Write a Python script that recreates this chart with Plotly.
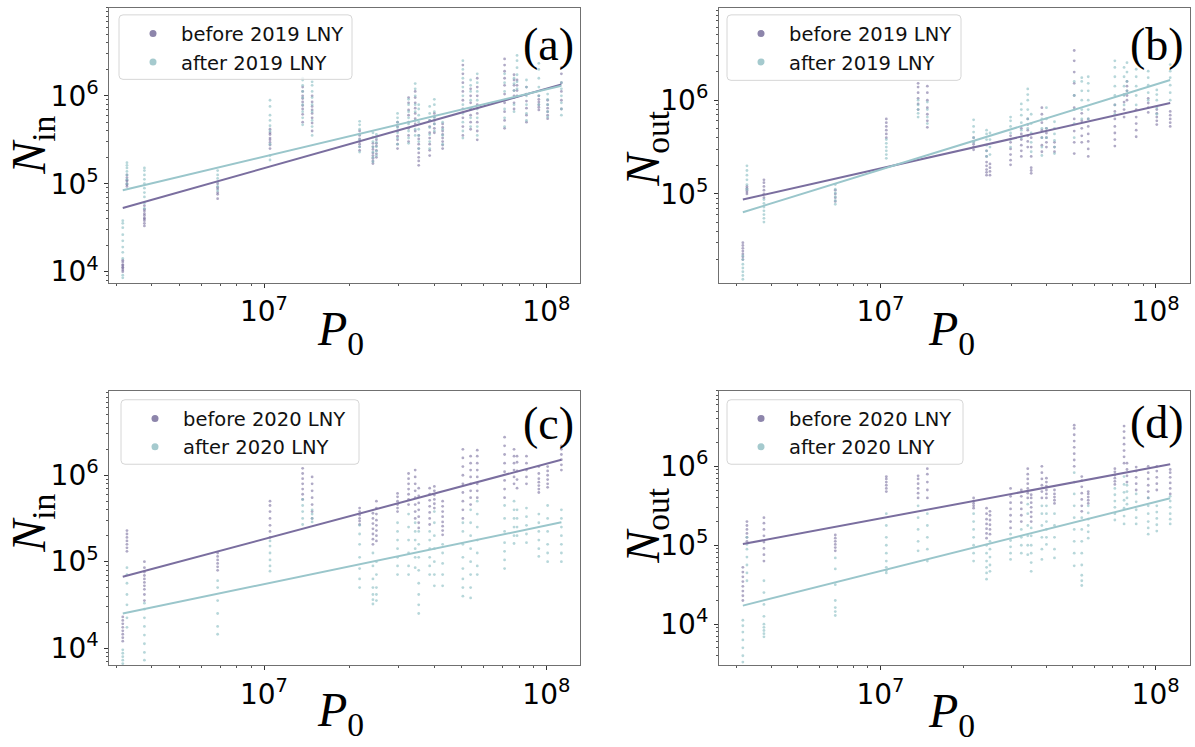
import plotly.graph_objects as go

W, H = 1195, 747

# Provincial population P0 (millions), one entry per province strip
p0_millions = [3.16, 3.27, 3.77, 6.85, 10.5, 13.7, 14.8, 21.8, 24.3, 25.0, 29.7, 32.5, 34.3, 35.3,
               38.6, 40.1, 42.9, 50.6, 53.9, 56.9, 71.1, 76.8, 78.7, 85.0, 94.0, 101.0, 113.0]

# Daily flows, log10 values, one list per province (same order as p0_millions)
nin_before_2019 = [
    [4.0, 4.02, 4.04, 4.05, 4.07, 4.08, 4.11, 4.13], [4.97, 4.99, 5.0, 5.03, 5.04, 5.07, 5.1],
    [4.52, 4.55, 4.58, 4.6, 4.61, 4.64, 4.66, 4.69, 4.71, 4.75], [4.83, 4.88, 4.9, 4.94, 4.96, 5.0],
    [5.4, 5.44, 5.47, 5.5, 5.52, 5.56, 5.58, 5.62], [5.7, 5.79, 5.85, 5.89, 5.93, 5.97, 6.0, 6.05, 6.1],
    [5.6, 5.69, 5.75, 5.8, 5.84, 5.88, 5.93, 6.0], [5.38, 5.42, 5.45, 5.48, 5.51, 5.55, 5.6],
    [5.23, 5.26, 5.29, 5.32, 5.35, 5.39, 5.42, 5.46], [5.3, 5.34, 5.38, 5.43, 5.46, 5.5],
    [5.4, 5.45, 5.5, 5.54, 5.6, 5.65, 5.7], [5.48, 5.55, 5.63, 5.7, 5.78, 5.84, 5.92, 5.98],
    [5.6, 5.68, 5.74, 5.8, 5.86, 5.92, 5.98, 6.05], [5.21, 5.26, 5.3, 5.35, 5.4, 5.45, 5.51, 5.55],
    [5.32, 5.38, 5.45, 5.52, 5.58, 5.65, 5.72], [5.58, 5.63, 5.68, 5.72, 5.76, 5.8],
    [5.4, 5.44, 5.48, 5.52, 5.56, 5.6, 5.64, 5.68], [5.55, 5.65, 5.75, 5.85, 5.95, 6.05, 6.15, 6.25, 6.35],
    [5.62, 5.7, 5.78, 5.85, 5.92, 6.0, 6.08], [5.5, 5.6, 5.7, 5.8, 5.9, 6.0, 6.1, 6.2],
    [5.63, 5.72, 5.82, 5.92, 6.02, 6.12, 6.2, 6.28, 6.35, 6.42], [5.85, 5.92, 6.0, 6.06, 6.12, 6.18, 6.24],
    [6.0, 6.06, 6.12, 6.18], [5.7, 5.78, 5.86, 5.94, 6.02, 6.1], [5.84, 5.87, 5.9, 5.93, 5.96, 6.0],
    [5.74, 5.78, 5.82, 5.86, 5.9, 5.95], [5.85, 5.95, 6.05, 6.15, 6.25, 6.32],
]
nin_after_2019 = [
    [3.93, 3.96, 4.15, 4.22, 4.28, 4.35, 4.42, 4.5, 4.55, 4.58], [5.0, 5.05, 5.1, 5.14, 5.18, 5.21, 5.24],
    [4.72, 4.78, 4.85, 4.9, 4.95, 5.0, 5.05, 5.1, 5.15, 5.18], [4.92, 4.97, 5.02, 5.06, 5.1, 5.15],
    [5.27, 5.32, 5.45, 5.6, 5.66, 5.72, 5.78, 5.88, 5.95], [5.67, 5.75, 5.82, 5.9, 5.98, 6.05, 6.12, 6.18, 6.2],
    [5.55, 5.65, 5.72, 5.82, 5.9, 5.98, 6.05, 6.12, 6.16], [5.36, 5.42, 5.5, 5.56, 5.62, 5.67, 5.71],
    [5.25, 5.3, 5.36, 5.42, 5.48, 5.53, 5.58], [5.32, 5.37, 5.42, 5.47, 5.52, 5.56],
    [5.45, 5.52, 5.58, 5.64, 5.7, 5.75, 5.8], [5.46, 5.52, 5.6, 5.68, 5.75, 5.82, 5.9, 5.96],
    [5.55, 5.62, 5.72, 5.82, 5.9, 6.0, 6.08, 6.14], [5.4, 5.48, 5.55, 5.62, 5.7, 5.78, 5.85, 5.9],
    [5.4, 5.48, 5.56, 5.64, 5.72, 5.8, 5.88], [5.6, 5.68, 5.75, 5.82, 5.9, 5.96],
    [5.45, 5.55, 5.62, 5.7], [5.52, 5.6, 5.7, 5.8, 5.9, 6.0, 6.1, 6.2, 6.3, 6.4],
    [5.65, 5.75, 5.85, 5.95, 6.05, 6.12, 6.18], [5.55, 5.65, 5.75, 5.85, 5.95, 6.05, 6.15, 6.25],
    [5.65, 5.75, 5.85, 5.95, 6.05, 6.15, 6.25], [5.82, 5.9, 5.98, 6.06, 6.14, 6.2],
    [5.99, 6.08, 6.16, 6.24, 6.32, 6.4, 6.46], [5.72, 5.8, 5.9, 6.0, 6.1, 6.18],
    [5.9, 6.0, 6.1, 6.2, 6.3, 6.37], [5.76, 5.82, 5.9, 5.96, 6.02], [5.78, 5.85, 5.92, 6.0, 6.08, 6.15],
]
nout_before_2019 = [
    [4.3, 4.33, 4.36, 4.39, 4.42, 4.45, 4.48], [5.0, 5.02, 5.04, 5.06, 5.08],
    [4.96, 5.0, 5.04, 5.08, 5.12, 5.15], [4.92, 4.96, 5.0, 5.04],
    [5.6, 5.64, 5.68, 5.72, 5.76, 5.8], [5.9, 5.96, 6.02, 6.08, 6.14, 6.18],
    [5.71, 5.78, 5.85, 5.92, 6.0, 6.08, 6.15], [5.47, 5.5, 5.53, 5.56, 5.6],
    [5.2, 5.23, 5.26, 5.3, 5.34, 5.4, 5.46], [5.2, 5.24, 5.28, 5.32],
    [5.31, 5.36, 5.42, 5.48, 5.55, 5.62], [5.4, 5.46, 5.52, 5.58, 5.64, 5.7],
    [5.5, 5.56, 5.62, 5.68, 5.74, 5.8], [5.22, 5.25, 5.28, 5.4, 5.5, 5.6],
    [5.45, 5.52, 5.6, 5.68, 5.76, 5.85, 5.92], [5.5, 5.55, 5.6, 5.65, 5.7],
    [5.45, 5.5, 5.55], [5.43, 5.55, 5.67, 5.8, 5.92, 6.05, 6.18, 6.3, 6.42, 6.53],
    [5.55, 5.62, 5.7, 5.78, 5.86], [5.4, 5.48, 5.56, 5.64, 5.72, 5.8],
    [5.51, 5.58, 5.65, 5.72, 5.8, 5.88, 5.95], [5.82, 5.9, 5.98, 6.06],
    [6.0, 6.05, 6.1, 6.15, 6.2], [5.61, 5.68, 5.75, 5.82, 5.9], [5.87, 5.92, 5.97, 6.02],
    [5.74, 5.78, 5.82, 5.86, 5.9], [5.72, 5.76, 5.8, 5.84, 5.88],
]
nout_after_2019 = [
    [4.09, 4.13, 4.17, 4.21, 4.25, 4.3, 4.34], [5.05, 5.1, 5.15, 5.2, 5.25, 5.3],
    [4.7, 4.74, 4.78, 4.82, 4.86, 4.9, 4.94], [4.89, 4.93, 4.97, 5.01, 5.05, 5.1],
    [5.38, 5.42, 5.46, 5.5, 5.54, 5.58], [5.82, 5.86, 5.9, 5.95, 6.0],
    [5.75, 5.82, 5.9, 5.98], [5.55, 5.6, 5.66, 5.72, 5.79],
    [5.4, 5.46, 5.52, 5.58, 5.64, 5.68], [5.42, 5.5, 5.58, 5.65],
    [5.5, 5.58, 5.65, 5.72, 5.78, 5.82], [5.6, 5.68, 5.76, 5.84, 5.9, 5.96],
    [5.7, 5.8, 5.9, 6.0, 6.06, 6.12], [5.45, 5.55, 5.65, 5.75, 5.85],
    [5.41, 5.5, 5.6, 5.7, 5.8], [5.6, 5.7, 5.8, 5.92],
    [5.43, 5.5, 5.57, 5.64, 5.7, 5.77], [5.6, 5.75, 5.9, 6.05, 6.2],
    [5.8, 5.9, 6.0, 6.1, 6.2, 6.24], [5.8, 5.9, 6.0, 6.1, 6.18, 6.25],
    [5.85, 5.95, 6.05, 6.15, 6.25, 6.35, 6.42], [5.95, 6.05, 6.15, 6.25, 6.35],
    [6.1, 6.2, 6.3, 6.4], [5.95, 6.05, 6.15, 6.25, 6.33], [6.0, 6.08, 6.16, 6.24, 6.31],
    [5.85, 5.92, 6.0, 6.06, 6.11], [6.0, 6.08, 6.16, 6.24, 6.31, 6.38],
]
nin_before_2020 = [
    [4.08, 4.12, 4.16, 4.2, 4.24, 4.28, 4.32, 4.36], [5.12, 5.16, 5.2, 5.24, 5.28, 5.32, 5.36],
    [4.55, 4.62, 4.68, 4.72, 4.76, 4.8, 4.84, 4.88, 4.93, 5.0], [4.9, 4.94, 4.98, 5.02, 5.06, 5.1],
    [5.28, 5.35, 5.42, 5.5, 5.58, 5.65, 5.7], [5.72, 5.78, 5.84, 5.9, 5.96, 6.02, 6.08],
    [5.5, 5.58, 5.66, 5.74, 5.82, 5.9, 5.98], [5.43, 5.47, 5.5, 5.54, 5.58, 5.62],
    [5.2, 5.26, 5.32, 5.38, 5.44, 5.5, 5.56], [5.24, 5.3, 5.36, 5.42, 5.48, 5.55, 5.62, 5.7],
    [5.58, 5.62, 5.66, 5.7, 5.75, 5.79], [5.66, 5.72, 5.78, 5.84, 5.9, 5.96, 6.02],
    [5.5, 5.58, 5.66, 5.74, 5.82, 5.9, 5.98, 6.06], [5.39, 5.45, 5.52, 5.6, 5.68, 5.76, 5.85],
    [5.43, 5.5, 5.57, 5.64, 5.71, 5.78, 5.85], [5.62, 5.67, 5.72, 5.77, 5.82, 5.87],
    [5.31, 5.36, 5.41, 5.46, 5.52, 5.58, 5.64, 5.7], [5.5, 5.6, 5.7, 5.8, 5.9, 6.0, 6.1, 6.2, 6.3],
    [5.66, 5.74, 5.82, 5.9, 5.98, 6.06, 6.14, 6.22], [5.74, 5.82, 5.9, 5.98, 6.06, 6.14, 6.22, 6.29],
    [5.74, 5.84, 5.94, 6.04, 6.14, 6.24, 6.34, 6.44], [5.9, 5.98, 6.06, 6.14, 6.22, 6.3],
    [5.85, 5.95, 6.05, 6.15, 6.22], [5.9, 5.98, 6.06, 6.14, 6.22],
    [5.8, 5.84, 5.88, 5.92, 5.96, 6.02, 6.1], [5.86, 5.9, 5.95, 6.0, 6.05, 6.1],
    [6.06, 6.12, 6.18, 6.24, 6.3, 6.34],
]
nin_after_2020 = [
    [3.82, 3.86, 3.9, 3.94, 3.98], [4.24, 4.35, 4.5, 4.62, 4.75, 4.85, 4.93],
    [3.86, 3.95, 4.05, 4.15, 4.25, 4.35, 4.45, 4.52], [4.16, 4.25, 4.4, 4.55, 4.7, 4.78],
    [4.89, 4.95, 5.02, 5.1, 5.18, 5.24], [5.43, 5.5, 5.58, 5.65, 5.72],
    [5.46, 5.5, 5.55, 5.6], [4.7, 4.8, 4.92, 5.05, 5.2, 5.32, 5.42],
    [4.51, 4.56, 4.62, 4.7, 4.8, 4.95, 5.1], [4.55, 4.62, 4.7, 4.85, 5.0],
    [4.85, 4.95, 5.05, 5.15, 5.25, 5.35, 5.45], [4.85, 4.95, 5.1, 5.25, 5.4, 5.55],
    [4.93, 5.05, 5.15, 5.25, 5.35, 5.45], [4.4, 4.5, 4.62, 4.75, 4.9, 5.05, 5.2, 5.35],
    [4.85, 4.95, 5.05, 5.15, 5.25, 5.35], [4.72, 4.85, 5.0, 5.15, 5.3, 5.45, 5.58],
    [4.72, 4.85, 4.98, 5.1, 5.2], [4.6, 4.7, 4.8, 4.92, 5.05, 5.2, 5.35, 5.45],
    [4.58, 4.7, 4.85, 5.0, 5.15, 5.3, 5.45, 5.6], [4.85, 4.95, 5.1, 5.25, 5.4, 5.55, 5.7],
    [4.92, 5.02, 5.12, 5.22, 5.35, 5.5, 5.65], [5.21, 5.3, 5.4, 5.5, 5.6, 5.7],
    [5.3, 5.4, 5.5, 5.6], [5.22, 5.32, 5.42, 5.52, 5.62],
    [5.06, 5.15, 5.25, 5.35, 5.45, 5.55], [5.0, 5.1, 5.2, 5.35, 5.5, 5.65],
    [5.0, 5.1, 5.2, 5.3, 5.4, 5.5, 5.6],
]
nout_before_2020 = [
    [4.3, 4.36, 4.42, 4.48, 4.54, 4.6, 4.66, 4.72], [5.05, 5.1, 5.15, 5.2, 5.25, 5.3],
    [4.8, 4.88, 4.96, 5.04, 5.12, 5.2, 5.28, 5.35], [4.93, 4.97, 5.01, 5.05, 5.09, 5.13],
    [5.68, 5.72, 5.76, 5.8, 5.84, 5.87], [5.6, 5.66, 5.72, 5.78, 5.84, 5.88],
    [5.6, 5.7, 5.8, 5.9, 5.97], [5.47, 5.5, 5.53, 5.56, 5.6],
    [5.09, 5.15, 5.21, 5.27, 5.33, 5.4, 5.47], [5.14, 5.2, 5.26, 5.32, 5.38, 5.43],
    [5.22, 5.3, 5.38, 5.46, 5.54, 5.62, 5.72], [5.3, 5.38, 5.46, 5.54, 5.62, 5.7],
    [5.6, 5.66, 5.72, 5.78, 5.84, 5.9, 5.97], [5.3, 5.36, 5.42, 5.48, 5.54, 5.6, 5.64],
    [5.6, 5.68, 5.76, 5.84, 5.92, 6.0], [5.6, 5.65, 5.7, 5.75, 5.8, 5.85],
    [5.53, 5.57, 5.61, 5.65, 5.7], [6.0, 6.08, 6.16, 6.24, 6.32, 6.4, 6.48, 6.52],
    [5.43, 5.5, 5.58, 5.66, 5.74, 5.82, 5.87], [5.53, 5.57, 5.61, 5.65, 5.68],
    [5.77, 5.81, 5.85, 5.89, 5.93, 5.97], [6.04, 6.12, 6.2, 6.28, 6.36, 6.44, 6.51],
    [5.8, 5.88, 5.96, 6.04], [5.7, 5.78, 5.86, 5.94, 5.99],
    [5.6, 5.68, 5.76, 5.84, 5.92, 6.0], [5.7, 5.78, 5.86, 5.94, 6.0],
    [5.65, 5.72, 5.79, 5.86, 5.92, 5.96],
]
nout_after_2020 = [
    [3.52, 3.6, 3.7, 3.8, 3.9, 3.98, 4.05], [4.55, 4.65, 4.75, 4.85, 4.95, 5.01, 5.1],
    [3.84, 3.88, 3.92, 3.96, 4.0, 4.1, 4.25, 4.4, 4.55], [4.11, 4.16, 4.21, 4.3, 4.5, 4.7, 4.84],
    [4.65, 4.68, 4.72, 4.8, 4.9, 5.0, 5.1, 5.25, 5.4], [4.93, 5.05, 5.2, 5.35, 5.5],
    [4.8, 4.95, 5.1, 5.25, 5.4], [4.8, 4.9, 5.0, 5.1, 5.2, 5.3, 5.4],
    [4.57, 4.65, 4.72, 4.8, 4.9, 5.0], [4.67, 4.75, 4.85, 4.95, 5.05],
    [4.82, 4.9, 4.98, 5.06, 5.14], [4.9, 5.0, 5.1, 5.2],
    [4.88, 5.0, 5.12, 5.25, 5.4, 5.52], [4.67, 4.78, 4.9, 5.0, 5.12, 5.22],
    [4.82, 4.95, 5.1, 5.25, 5.4, 5.5], [5.01, 5.1, 5.2, 5.3, 5.4, 5.5],
    [4.84, 4.95, 5.1, 5.25, 5.4], [4.74, 4.9, 5.05, 5.2, 5.35, 5.5, 5.65, 5.8, 5.92],
    [4.49, 4.55, 4.62, 4.75, 4.9, 5.05, 5.2, 5.35], [5.09, 5.17, 5.25, 5.33, 5.41, 5.5],
    [5.32, 5.4, 5.48, 5.56, 5.64, 5.72], [5.27, 5.37, 5.47, 5.57, 5.67, 5.77, 5.87],
    [5.52, 5.6, 5.68, 5.76], [5.27, 5.35, 5.45, 5.55, 5.65],
    [5.14, 5.22, 5.3, 5.4, 5.5, 5.6], [5.18, 5.26, 5.34, 5.42, 5.5],
    [5.27, 5.33, 5.4, 5.48, 5.56, 5.62],
]

# Power-law fit lines: log10 value at the smallest and the largest province
fit_nin_2019 = {"before": [4.723, 6.13], "after": [4.926, 6.115]}
fit_nout_2019 = {"before": [4.94, 5.97], "after": [4.805, 6.215]}
fit_nin_2020 = {"before": [4.825, 6.18], "after": [4.40, 5.455]}
fit_nout_2020 = {"before": [5.015, 6.025], "after": [4.235, 5.595]}

x_tickvals = [1e7, 1e8]
x_ticktext = ["10<sup>7</sup>", "10<sup>8</sup>"]
y_tickvals = [1e4, 1e5, 1e6]
y_ticktext = ["10<sup>4</sup>", "10<sup>5</sup>", "10<sup>6</sup>"]

C_BEFORE_PT = "rgba(112,100,152,0.55)"
C_AFTER_PT = "rgba(135,188,194,0.6)"
C_BEFORE_LN = "#7a6e9f"
C_AFTER_LN = "#9ac6cb"
C_BEFORE_LEG = "#8d85ab"
C_AFTER_LEG = "#a5cace"

p0 = [v * 1e6 for v in p0_millions]


def fx(px):
    return px / W


def fy(py):
    return 1 - py / H


panels = [
    dict(tag="(a)", ax="", leg="legend", xdom=(109.3, 580.3), ydom=(8, 285), xr=(6.452, 8.12),
         yr=(3.874, 7.0), before=nin_before_2019, after=nin_after_2019, fit=fit_nin_2019, year="2019",
         ylab="<i>N</i><sub>in</sub>", ylab_pos=(32, 146), xlab_pos=(340, 335), tag_pos=(548, 45),
         box=(119, 15, 352, 80)),
    dict(tag="(b)", ax="2", leg="legend2", xdom=(719, 1190), ydom=(8, 285), xr=(6.413, 8.125),
         yr=(4.053, 6.984), before=nout_before_2019, after=nout_after_2019, fit=fit_nout_2019, year="2019",
         ylab="<i>N</i><sub>out</sub>", ylab_pos=(646, 150), xlab_pos=(951, 335), tag_pos=(1157, 45),
         box=(727, 15, 961, 81)),
    dict(tag="(c)", ax="3", leg="legend3", xdom=(109.3, 580.3), ydom=(393.7, 670.3), xr=(6.452, 8.12),
         yr=(3.805, 6.98), before=nin_before_2020, after=nin_after_2020, fit=fit_nin_2020, year="2020",
         ylab="<i>N</i><sub>in</sub>", ylab_pos=(32, 527), xlab_pos=(340, 719), tag_pos=(548, 427),
         box=(121, 403, 359, 468)),
    dict(tag="(d)", ax="4", leg="legend4", xdom=(719, 1190), ydom=(393.7, 670.3), xr=(6.413, 8.125),
         yr=(3.484, 6.96), before=nout_before_2020, after=nout_after_2020, fit=fit_nout_2020, year="2020",
         ylab="<i>N</i><sub>out</sub>", ylab_pos=(646, 530), xlab_pos=(951, 720), tag_pos=(1157, 426),
         box=(727, 403, 963, 468)),
]

fig = go.Figure()
layout = dict(width=W, height=H, margin=dict(l=0, r=0, t=0, b=0), paper_bgcolor="white",
              plot_bgcolor="white", showlegend=True, annotations=[], shapes=[])

axis_base = dict(type="log", showline=True, mirror=True, linecolor="#707070", linewidth=1,
                 ticks="outside", ticklen=4, tickwidth=1, tickcolor="#333333", showgrid=False,
                 zeroline=False, tickmode="array",
                 tickfont=dict(family="DejaVu Sans", size=28, color="black"),
                 minor=dict(ticks="outside", ticklen=2, tickwidth=0.8, tickcolor="#555555",
                            dtick="D1", showgrid=False))


def strip_xy(values):
    xs, ys = [], []
    for p, vals in zip(p0, values):
        for v in vals:
            xs.append(p)
            ys.append(10 ** v)
    return xs, ys


for pn in panels:
    xa, ya = "x" + pn["ax"], "y" + pn["ax"]
    for key, ptc in (("before", C_BEFORE_PT), ("after", C_AFTER_PT)):
        xs, ys = strip_xy(pn[key])
        fig.add_trace(go.Scatter(x=xs, y=ys, mode="markers", xaxis=xa, yaxis=ya, showlegend=False,
                                 marker=dict(size=2.8, color=ptc, line=dict(width=0)), hoverinfo="skip"))
    for key, lnc in (("before", C_BEFORE_LN), ("after", C_AFTER_LN)):
        fig.add_trace(go.Scatter(x=[p0[0], p0[-1]], y=[10 ** v for v in pn["fit"][key]], mode="lines",
                                 xaxis=xa, yaxis=ya, showlegend=False, line=dict(color=lnc, width=2),
                                 hoverinfo="skip"))
    for key, lc in (("before", C_BEFORE_LEG), ("after", C_AFTER_LEG)):
        fig.add_trace(go.Scatter(x=[None], y=[None], mode="markers", xaxis=xa, yaxis=ya,
                                 name=f"{key} {pn['year']} LNY", legend=pn["leg"],
                                 marker=dict(size=7, color=lc)))

    x0, x1 = pn["xdom"]
    y0, y1 = pn["ydom"]
    xkey = "xaxis" + pn["ax"]
    ykey = "yaxis" + pn["ax"]
    layout[xkey] = dict(axis_base, domain=[fx(x0), fx(x1)], range=list(pn["xr"]), anchor=ya,
                        tickvals=x_tickvals, ticktext=x_ticktext)
    layout[ykey] = dict(axis_base, domain=[fy(y1), fy(y0)], range=list(pn["yr"]), anchor=xa,
                        tickvals=y_tickvals, ticktext=y_ticktext)

    # legend frame (rounded)
    bx0, by0, bx1, by1 = pn["box"]
    r = 4
    path = (f"M {fx(bx0 + r)} {fy(by0)} L {fx(bx1 - r)} {fy(by0)} Q {fx(bx1)} {fy(by0)} {fx(bx1)} {fy(by0 + r)} "
            f"L {fx(bx1)} {fy(by1 - r)} Q {fx(bx1)} {fy(by1)} {fx(bx1 - r)} {fy(by1)} "
            f"L {fx(bx0 + r)} {fy(by1)} Q {fx(bx0)} {fy(by1)} {fx(bx0)} {fy(by1 - r)} "
            f"L {fx(bx0)} {fy(by0 + r)} Q {fx(bx0)} {fy(by0)} {fx(bx0 + r)} {fy(by0)} Z")
    layout["shapes"].append(dict(type="path", path=path, xref="paper", yref="paper", layer="above",
                                 fillcolor="rgba(255,255,255,0.8)", line=dict(color="#d6d6d6", width=1)))

    layout[pn["leg"]] = dict(x=fx(bx0 + 6), y=fy(by0 - 0.5), xanchor="left", yanchor="top",
                             bgcolor="rgba(0,0,0,0)", borderwidth=0, itemwidth=46, tracegroupgap=0,
                             font=dict(family="DejaVu Sans", size=19.5, color="#111111"))

    lx, ly = pn["ylab_pos"]
    layout["annotations"].append(dict(text=pn["ylab"], x=fx(lx), y=fy(ly), xref="paper", yref="paper",
                                      showarrow=False, textangle=-90, xanchor="center", yanchor="middle",
                                      font=dict(family="Liberation Serif", size=48, color="black")))
    px_, py_ = pn["xlab_pos"]
    layout["annotations"].append(dict(text="<i>P</i><sub>0</sub>", x=fx(px_), y=fy(py_), xref="paper",
                                      yref="paper", showarrow=False, xanchor="center", yanchor="middle",
                                      font=dict(family="Liberation Serif", size=48, color="black")))
    tx, ty = pn["tag_pos"]
    layout["annotations"].append(dict(text=pn["tag"], x=fx(tx), y=fy(ty), xref="paper", yref="paper",
                                      showarrow=False, xanchor="center", yanchor="middle",
                                      font=dict(family="Liberation Serif", size=46, color="black")))

fig.update_layout(**layout)
fig.write_html("out.html")
